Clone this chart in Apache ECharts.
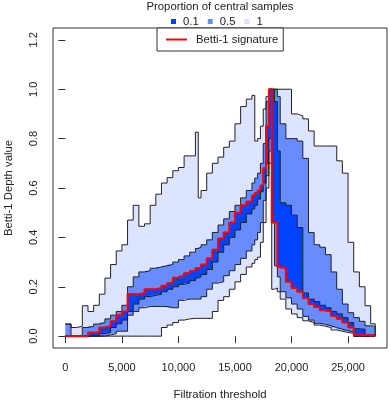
<!DOCTYPE html>
<html>
<head>
<meta charset="utf-8">
<script src="https://cdn.jsdelivr.net/npm/echarts@6.0.0/dist/echarts.min.js"></script>
<style>
html, body { margin: 0; padding: 0; background: #fff; }
#chart { width: 390px; height: 402px; }
</style>
</head>
<body>
<div id="chart"></div>
<script>
// filtration thresholds where the step functions change (value held until next x)
var filtration = [0, 500, 1000, 1500, 2000, 2500, 3000, 3500, 4000, 4500, 5000, 5500,
	6000, 6500, 7000, 7500, 8000, 8500, 9000, 9500, 10000, 10500, 11000, 11500, 11750,
	12000, 12500, 13000, 13500, 14000, 14500, 15000, 15500, 16000, 16500, 16750,
	17000, 17250, 17500, 17750, 18000, 18250, 18500, 18750, 19000,
	19500, 20000, 20500, 21000, 21500, 22000, 22500, 23000, 23500, 24000, 24500,
	25000, 25500, 26000, 26500, 27000, 27400];

// envelope of all samples (proportion 1)
var outerLow = [0, 0, 0, 0, 0, 0, 0, 0, 0, 0, 0, 0,
	0, 0, 0, 0, 0, 0.035, 0.045, 0.055, 0.065, 0.07, 0.072, 0.072, 0.072,
	0.072, 0.072, 0.1, 0.145, 0.16, 0.19, 0.22, 0.25, 0.28, 0.295, 0.31,
	0.32, 0.38, 0.46, 0.6, 0.7, 0.19, 0.195, 0.18, 0.15,
	0.11, 0.09, 0.075, 0.062, 0.055, 0.045, 0.04, 0.035, 0.025, 0.02, 0.015,
	0.012, 0, 0, 0, 0, 0];
var outerHigh = [0.049, 0.035, 0.04, 0.123, 0.1, 0.125, 0.17, 0.235, 0.29, 0.345, 0.37, 0.47,
	0.53, 0.445, 0.455, 0.53, 0.575, 0.62, 0.642, 0.67, 0.683, 0.73, 0.73, 0.826, 0.56,
	0.59, 0.66, 0.7, 0.725, 0.765, 0.79, 0.86, 0.93, 0.96, 0.975, 0.79,
	0.8, 0.85, 0.92, 0.97, 1, 1, 1, 1, 1,
	1, 0.9, 0.892, 0.88, 0.831, 0.77, 0.77, 0.77, 0.77, 0.71, 0.66,
	0.38, 0.26, 0.2, 0.123, 0.05, 0];

// 50% central region
var midLow = [0, 0, 0, 0, 0, 0, 0, 0.005, 0.01, 0.02, 0.02, 0.085,
	0.1, 0.115, 0.12, 0.12, 0.12, 0.12, 0.115, 0.115, 0.145, 0.15, 0.15, 0.15, 0.15,
	0.16, 0.19, 0.215, 0.22, 0.245, 0.265, 0.29, 0.315, 0.345, 0.37, 0.39,
	0.42, 0.46, 0.55, 0.65, 0.75, 0.46, 0.285, 0.24, 0.18,
	0.155, 0.13, 0.11, 0.08, 0.065, 0.052, 0.048, 0.042, 0.035, 0.028, 0.022,
	0.018, 0, 0, 0, 0, 0];
var midHigh = [0.049, 0, 0, 0.035, 0.04, 0.049, 0.055, 0.07, 0.085, 0.1, 0.125, 0.2,
	0.24, 0.26, 0.265, 0.275, 0.28, 0.285, 0.29, 0.3, 0.31, 0.325, 0.34, 0.355, 0.36,
	0.37, 0.39, 0.42, 0.45, 0.475, 0.505, 0.53, 0.56, 0.59, 0.62, 0.64,
	0.66, 0.7, 0.78, 0.95, 1, 1, 1, 0.97, 0.86,
	0.8, 0.8, 0.79, 0.72, 0.42, 0.37, 0.36, 0.33, 0.26, 0.19, 0.13,
	0.095, 0.075, 0.06, 0.042, 0.04, 0];

// 10% central region
var innerLow = [0, 0, 0, 0, 0, 0, 0.01, 0.015, 0.035, 0.05, 0.065, 0.1,
	0.13, 0.15, 0.16, 0.165, 0.17, 0.18, 0.19, 0.2, 0.21, 0.215, 0.225, 0.235, 0.24,
	0.25, 0.27, 0.3, 0.34, 0.37, 0.4, 0.43, 0.46, 0.495, 0.515, 0.53,
	0.555, 0.585, 0.62, 0.7, 0.8, 0.46, 0.46, 0.28, 0.275,
	0.22, 0.195, 0.18, 0.155, 0.13, 0.118, 0.105, 0.1, 0.082, 0.07, 0.055,
	0.035, 0, 0, 0, 0, 0];
var innerHigh = [0, 0, 0, 0, 0.015, 0.015, 0.035, 0.04, 0.06, 0.085, 0.1, 0.17,
	0.17, 0.175, 0.19, 0.19, 0.195, 0.204, 0.215, 0.237, 0.245, 0.255, 0.264, 0.275, 0.278,
	0.29, 0.315, 0.35, 0.395, 0.42, 0.46, 0.5, 0.53, 0.545, 0.57, 0.58,
	0.59, 0.61, 0.68, 0.85, 1, 1, 0.95, 0.75, 0.54,
	0.53, 0.49, 0.44, 0.175, 0.15, 0.14, 0.125, 0.115, 0.1, 0.09, 0.075,
	0.055, 0.03, 0.028, 0.004, 0.004, 0];

// Betti-1 signature
var signature = [0, 0, 0, 0, 0.015, 0.015, 0.035, 0.04, 0.06, 0.085, 0.1, 0.17,
	0.17, 0.175, 0.19, 0.19, 0.195, 0.204, 0.215, 0.237, 0.245, 0.255, 0.264, 0.275, 0.278,
	0.29, 0.315, 0.35, 0.395, 0.42, 0.46, 0.5, 0.53, 0.545, 0.57, 0.58,
	0.59, 0.61, 0.68, 0.85, 1, 0.46, 0.46, 0.28, 0.275,
	0.22, 0.195, 0.18, 0.155, 0.13, 0.118, 0.105, 0.1, 0.082, 0.07, 0.055,
	0.035, 0.006, 0.004, 0.004, 0.004, 0.004];

var xTicks = [0, 5000, 10000, 15000, 20000, 25000];
var yTicks = [0, 0.2, 0.4, 0.6, 0.8, 1.0, 1.2];

var edge = '#222';
var font = "'Liberation Sans', Arial, sans-serif";
var colLight = '#dce4ff', colMid = '#678cff', colDark = '#0043ff';

function pairs(vals) {
	return filtration.map(function (x, i) { return [x, vals[i]]; });
}

// filled step band between two envelopes, built as one polygon through the axes
function bandFill(name, lo, hi, color) {
	return {
		name: name, type: 'custom', z: 2,
		data: filtration.map(function (x, i) { return [x, lo[i], hi[i]]; }),
		encode: { x: 0, y: [1, 2] },
		renderItem: function (params, api) {
			if (params.dataIndex !== 0) return null;
			var n = filtration.length, pts = [], i;
			for (i = 0; i < n - 1; i++) {
				pts.push(api.coord([filtration[i], hi[i]]));
				pts.push(api.coord([filtration[i + 1], hi[i]]));
			}
			for (i = n - 2; i >= 0; i--) {
				pts.push(api.coord([filtration[i + 1], lo[i]]));
				pts.push(api.coord([filtration[i], lo[i]]));
			}
			return { type: 'polygon', shape: { points: pts }, style: { fill: color, stroke: null } };
		}
	};
}

function edgeLine(name, vals) {
	return {
		name: name, type: 'line', step: 'end', symbol: 'none', z: 2,
		data: pairs(vals), lineStyle: { color: edge, width: 1 }
	};
}

var chart = echarts.init(document.getElementById('chart'));

var series = [
	bandFill('1', outerLow, outerHigh, colLight),
	edgeLine('1 low', outerLow), edgeLine('1 high', outerHigh),
	bandFill('0.5', midLow, midHigh, colMid),
	edgeLine('0.5 low', midLow), edgeLine('0.5 high', midHigh),
	bandFill('0.1', innerLow, innerHigh, colDark),
	edgeLine('0.1 low', innerLow), edgeLine('0.1 high', innerHigh),
	{
		name: 'Betti-1 signature', type: 'line', step: 'end', symbol: 'none', z: 3,
		data: pairs(signature), lineStyle: { color: '#ff0000', width: 2 }
	}
];

var option = {
	animation: false,
	textStyle: { fontFamily: font },
	grid: {
		left: 53, top: 28, width: 334, height: 320,
		containLabel: false, outerBoundsMode: 'none',
		show: true, borderColor: '#333', borderWidth: 1
	},
	xAxis: {
		type: 'value', min: -1094, max: 28444,
		axisLine: { show: false },
		axisTick: { show: true, length: 7, lineStyle: { color: '#333' }, customValues: xTicks },
		axisLabel: { customValues: xTicks, margin: 14, fontSize: 11, color: '#222', fontFamily: font },
		splitLine: { show: false }
	},
	yAxis: {
		type: 'value', min: -0.048, max: 1.248,
		axisLine: { show: false },
		axisTick: { show: true, length: 7, lineStyle: { color: '#333' }, customValues: yTicks },
		axisLabel: {
			customValues: yTicks, margin: 14, rotate: 90, fontSize: 11, color: '#222', fontFamily: font,
			formatter: function (v) { return v.toFixed(1); }
		},
		splitLine: { show: false }
	},
	legend: [
		{
			selectedMode: false, left: 171, top: 16, padding: 0, itemGap: 9,
			itemWidth: 5, itemHeight: 5,
			textStyle: { fontSize: 11.3, color: '#222', fontFamily: font, padding: [0, 0, 0, 2] },
			data: [
				{ name: '0.1', icon: 'rect', itemStyle: { color: colDark, borderWidth: 0 } },
				{ name: '0.5', icon: 'rect', itemStyle: { color: colMid, borderWidth: 0 } },
				{ name: '1', icon: 'rect', itemStyle: { color: colLight, borderWidth: 0 } }
			]
		},
		{
			selectedMode: false, left: 157, top: 28, padding: [6, 5, 6, 9],
			borderColor: '#333', borderWidth: 1, backgroundColor: '#fff',
			itemWidth: 21, itemHeight: 2,
			textStyle: { fontSize: 11.3, color: '#222', fontFamily: font, padding: [0, 0, 0, 4] },
			data: [
				{ name: 'Betti-1 signature', icon: 'rect', itemStyle: { color: '#ff0000', borderWidth: 0 } }
			]
		}
	],
	graphic: [
		{
			type: 'text', x: 220, y: 7,
			style: { text: 'Proportion of central samples', fontSize: 11.3, fontFamily: font, fill: '#222',
				textAlign: 'center', textVerticalAlign: 'middle' }
		},
		{
			type: 'text', x: 220, y: 395,
			style: { text: 'Filtration threshold', fontSize: 11.3, fontFamily: font, fill: '#222',
				textAlign: 'center', textVerticalAlign: 'middle' }
		},
		{
			type: 'text', x: 9, y: 188, rotation: Math.PI / 2,
			style: { text: 'Betti-1 Depth value', fontSize: 11.3, fontFamily: font, fill: '#222',
				textAlign: 'center', textVerticalAlign: 'middle' }
		}
	],
	series: series
};

chart.setOption(option);
</script>
</body>
</html>
